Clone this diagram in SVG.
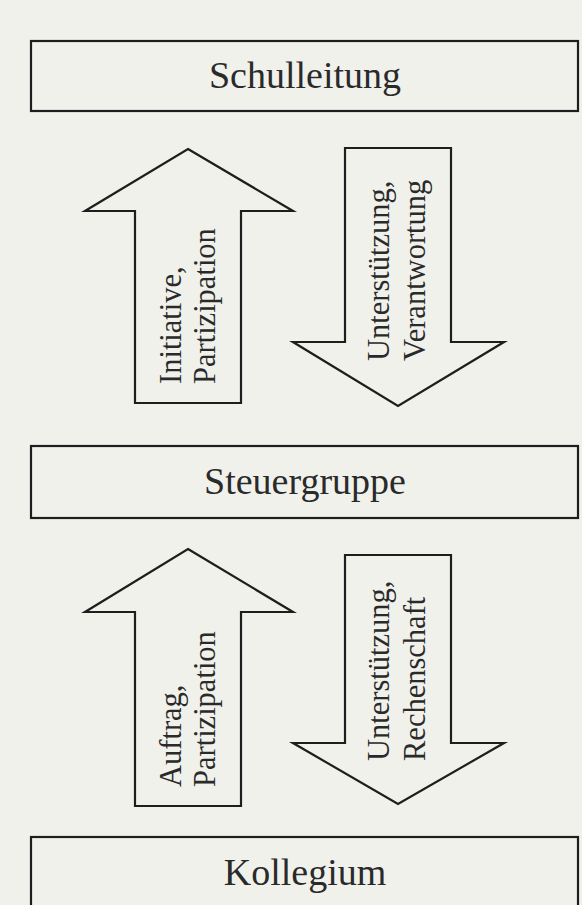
<svg xmlns="http://www.w3.org/2000/svg" width="582" height="905" viewBox="0 0 582 905">
<style>
.box{fill:none;stroke:#1e1e1e;stroke-width:2.2}
.arr{fill:none;stroke:#1e1e1e;stroke-width:2.2;stroke-linejoin:miter}
.t{font-family:"Liberation Serif","Times New Roman",serif;fill:#2a2a2a}
.big{font-size:38px;text-anchor:middle}
.rot{font-size:30.5px}
</style>
<rect x="0" y="0" width="582" height="905" fill="#f1f1ec"/>
<g id="schulleitung">
<rect class="box" x="31" y="41" width="547" height="70"/>
<text class="t big" x="305" y="88">Schulleitung</text>
</g>
<g id="steuergruppe">
<rect class="box" x="31" y="446" width="547" height="72"/>
<text class="t big" x="305" y="494">Steuergruppe</text>
</g>
<g id="kollegium">
<rect class="box" x="31" y="837" width="547" height="90"/>
<text class="t big" x="305" y="885">Kollegium</text>
</g>
<g id="connectors">
<g id="arrow-up-1">
<polygon class="arr" points="188,149 293,211 241,211 241,403 135,403 135,211 85,211"/>
<text class="t rot" transform="translate(181,384) rotate(-90)">Initiative,</text>
<text class="t rot" transform="translate(215,384) rotate(-90)">Partizipation</text>
</g>
<g id="arrow-down-1">
<polygon class="arr" points="345,148 451,148 451,342 504,342 398,406 293,342 345,342"/>
<text class="t rot" transform="translate(389,361) rotate(-90)">Unterstützung,</text>
<text class="t rot" transform="translate(425,361) rotate(-90)">Verantwortung</text>
</g>
<g id="arrow-up-2">
<polygon class="arr" points="188,549 293,612 241,612 241,806 135,806 135,612 85,612"/>
<text class="t rot" transform="translate(181,787) rotate(-90)">Auftrag,</text>
<text class="t rot" transform="translate(215,787) rotate(-90)">Partizipation</text>
</g>
<g id="arrow-down-2">
<polygon class="arr" points="345,555 451,555 451,743 504,743 398,804 293,743 345,743"/>
<text class="t rot" transform="translate(389,761) rotate(-90)">Unterstützung,</text>
<text class="t rot" transform="translate(425,761) rotate(-90)">Rechenschaft</text>
</g>
</g>
</svg>
